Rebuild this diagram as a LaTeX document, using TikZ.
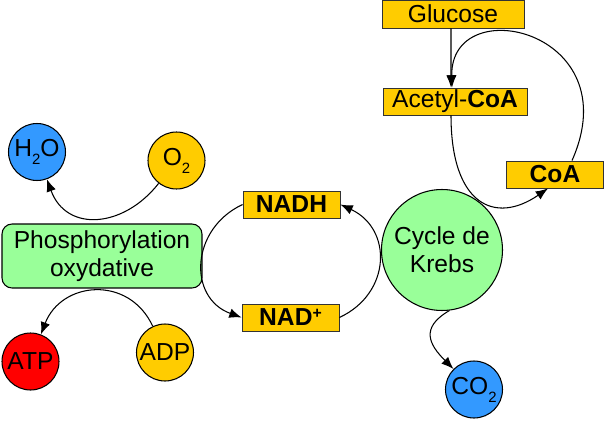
\documentclass[tikz,border=0pt]{standalone}
\usepackage{fontspec}
\setmainfont{Liberation Sans}
\usepackage{xcolor}
\usepackage{tikz}
\usetikzlibrary{shapes,arrows,positioning,calc,arrows.meta}

\definecolor{molyellow}{HTML}{FFCC00}
\definecolor{waterblue}{HTML}{3399FF}
\definecolor{paleGreen}{HTML}{99FF99}
\definecolor{atpred}{HTML}{FF0000}

% small lowered index
\newcommand{\lowidx}[1]{\raisebox{-4.5pt}{\fontsize{8.5}{8.5}\selectfont #1}}

\begin{document}
\begin{tikzpicture}[x=0.02cm, y=0.02cm,
    font=\fontsize{14}{16}\selectfont,
    mol/.style={draw=black!80, line width=0.5pt, rectangle, fill=molyellow,
        minimum width=1.94cm, minimum height=0.54cm, inner sep=0pt},
    ball/.style={draw, line width=0.6pt, circle, minimum size=1.14cm, inner sep=0pt},
    arr/.style={-{Latex[length=7pt,width=5.5pt]}, line width=0.6pt}]
    \useasboundingbox (0,0) rectangle (605,420);

    % Glucose and CoA
    \node [mol, minimum width=2.84cm, minimum height=0.56cm] (gluc) at (453,406) {Glucose};
    \node [mol, minimum width=2.88cm] (acetyl) at (455,318.5) {Acetyl-\textbf{CoA}};
    \node [mol] (coa) at (555,245.5) {\textbf{CoA}};

    % Krebs cycle
    \node [ball, fill=paleGreen, minimum size=2.42cm, align=center] (krebs) at (442,170) {Cycle de\\Krebs};
    \node [ball, fill=waterblue] (co2) at (474,30.5) {CO\lowidx{2}};

    % NADH / NAD+
    \node [mol] (nadh) at (291.5,215.5) {\textbf{NADH}};
    \node [mol] (nadp) at (290.5,102.5) {\textbf{NAD\raisebox{4pt}{\fontsize{9}{9}\selectfont +}}};

    % Phosphorylation
    \node [draw, line width=0.6pt, rounded corners=0.2cm, fill=paleGreen, minimum width=4cm,
        minimum height=1.28cm, align=center] (phos) at (102,164) {Phosphorylation\\oxydative};
    \node [ball, fill=waterblue] (h2o) at (37,268) {H\lowidx{2}O};
    \node [ball, fill=molyellow] (o2) at (176.5,259.5) {O\lowidx{2}};
    \node [ball, fill=atpred] (atp) at (30.5,58.5) {ATP};
    \node [ball, fill=molyellow] (adp) at (165,67.5) {ADP};

    % Arrows
    \draw [arr] ([xshift=-0.04cm]gluc.south) -- ([xshift=-0.08cm]acetyl.north);
    \draw [arr] ([xshift=-0.08cm]acetyl.south) .. controls (451,215) and (495,195) .. ([xshift=-0.14cm]coa.south);
    \draw [arr] ([xshift=0.34cm]coa.north) .. controls (630,390) and (450,430) .. ([xshift=-0.06cm]acetyl.north);
    \draw [arr] (nadp.east) to[out=25, in=-25, looseness=1.3] (nadh.east);
    \draw [arr] (nadh.west) to[out=205, in=160, looseness=1.3] (nadp.west);
    \draw [arr] (o2) to[out=-128, in=-70, looseness=1.3] (h2o);
    \draw [arr] (adp) to[out=115, in=69, looseness=1.3] (atp);
    \draw [arr] (krebs.-83) to[out=210, in=135, looseness=1.5] (co2);
\end{tikzpicture}
\end{document}
